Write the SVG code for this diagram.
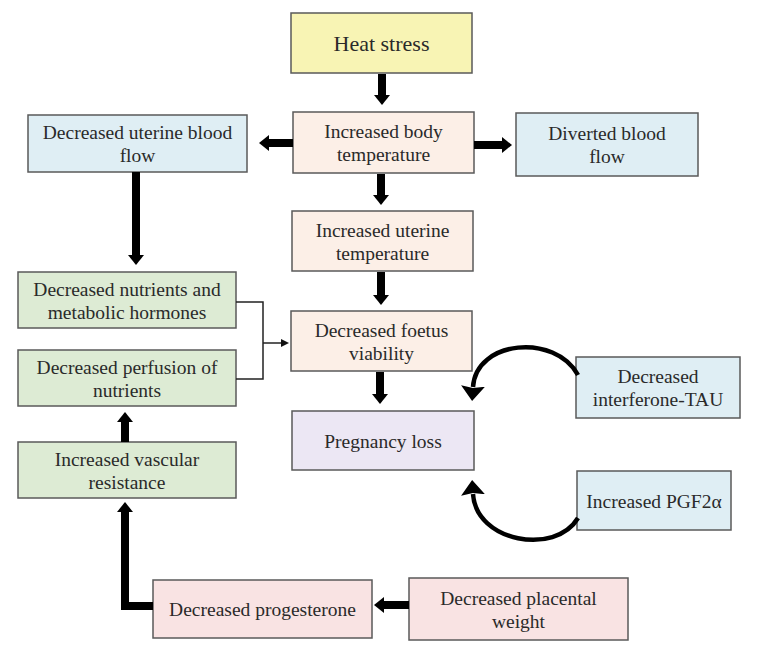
<svg xmlns="http://www.w3.org/2000/svg" width="771" height="651" viewBox="0 0 771 651">
<defs>
<marker id="ah" viewBox="0 0 10 16" refX="0" refY="8" markerWidth="10" markerHeight="16" markerUnits="userSpaceOnUse" orient="auto"><path d="M0,0 L10,8 L0,16 z" fill="#000"/></marker>
<marker id="ahs" viewBox="0 0 10 10" refX="0" refY="5" markerWidth="8" markerHeight="8" markerUnits="userSpaceOnUse" orient="auto"><path d="M0,0 L10,5 L0,10 z" fill="#111"/></marker>
<marker id="ahc" viewBox="0 0 15 24" refX="1" refY="12" markerWidth="15" markerHeight="24" markerUnits="userSpaceOnUse" orient="auto"><path d="M0,0 L15,12 L0,24 L2,12 z" fill="#000"/></marker>
</defs>
<style>
.b{stroke:#5a5a5a;stroke-width:1.5}
.y{fill:#f8f4b4}.p{fill:#fcefe7}.bl{fill:#dfeef4}.g{fill:#ddebd4}.l{fill:#ece7f4}.k{fill:#f9e3e3}
text{font-family:"Liberation Serif","Times New Roman",serif;font-size:19.5px;fill:#2a2a2a;text-anchor:middle}
.t{stroke:#000;stroke-width:8;fill:none;marker-end:url(#ah)}
.th{stroke:#222;stroke-width:1.5;fill:none}
.c{stroke:#000;stroke-width:4.5;fill:none;marker-end:url(#ahc)}
</style>
<rect width="771" height="651" fill="#fff"/>
<g id="heat"><rect class="b y" x="291" y="13" width="181" height="60"/><text x="381.5" y="51" style="font-size:22px">Heat stress</text></g>
<g id="bodytemp"><rect class="b p" x="293" y="112" width="181" height="61"/><text x="383.5" y="138">Increased body</text><text x="383.5" y="161">temperature</text></g>
<g id="uterineflow"><rect class="b bl" x="28" y="115" width="219" height="57"/><text x="137.5" y="139">Decreased uterine blood</text><text x="137.5" y="162">flow</text></g>
<g id="diverted"><rect class="b bl" x="516" y="113" width="182" height="63"/><text x="607" y="140">Diverted blood</text><text x="607" y="163">flow</text></g>
<g id="uterinetemp"><rect class="b p" x="292" y="211" width="181" height="60"/><text x="382.5" y="236.5">Increased uterine</text><text x="382.5" y="259.5">temperature</text></g>
<g id="foetus"><rect class="b p" x="291" y="311" width="181" height="60"/><text x="381.5" y="336.5">Decreased foetus</text><text x="381.5" y="359.5">viability</text></g>
<g id="loss"><rect class="b l" x="292" y="411" width="182" height="59"/><text x="383" y="447.5">Pregnancy loss</text></g>
<g id="nutrients"><rect class="b g" x="18" y="272" width="218" height="56"/><text x="127" y="295.5">Decreased nutrients and</text><text x="127" y="318.5">metabolic hormones</text></g>
<g id="perfusion"><rect class="b g" x="18" y="350" width="218" height="56"/><text x="127" y="373.5">Decreased perfusion of</text><text x="127" y="396.5">nutrients</text></g>
<g id="vascular"><rect class="b g" x="18" y="442" width="218" height="56"/><text x="127" y="465.5">Increased vascular</text><text x="127" y="488.5">resistance</text></g>
<g id="interferone"><rect class="b bl" x="576" y="357" width="164" height="61"/><text x="658" y="383">Decreased</text><text x="658" y="406">interferone-TAU</text></g>
<g id="pgf"><rect class="b bl" x="577" y="471" width="154" height="59"/><text x="654" y="507.5">Increased PGF2α</text></g>
<g id="progesterone"><rect class="b k" x="153" y="580" width="219" height="58"/><text x="262.5" y="616">Decreased progesterone</text></g>
<g id="placental"><rect class="b k" x="409" y="578" width="219" height="62"/><text x="518.5" y="604.5">Decreased placental</text><text x="518.5" y="627.5">weight</text></g>
<g id="connectors">
<line class="t" x1="382" y1="74" x2="382" y2="95"/>
<line class="t" x1="293" y1="143" x2="269" y2="143"/>
<line class="t" x1="474" y1="145" x2="502" y2="145"/>
<line class="t" x1="381" y1="174" x2="381" y2="195"/>
<line class="t" x1="381" y1="272" x2="381" y2="295"/>
<line class="t" x1="380" y1="372" x2="380" y2="394"/>
<line class="t" x1="136" y1="172" x2="136" y2="255"/>
<line class="t" x1="125" y1="442" x2="125" y2="422"/>
<path class="t" d="M153,606 L125,606 L125,512"/>
<line class="t" x1="409" y1="605" x2="384" y2="605"/>
<path class="th" d="M236,302 L263,302 L263,379 L236,379"/>
<line class="th" x1="263" y1="343" x2="281" y2="343" marker-end="url(#ahs)"/>
<path class="c" d="M578,375 C555,333 476,340 473,387"/>
<path class="c" d="M578,518 C555,556 476,542 473,494"/>
</g>
</svg>
